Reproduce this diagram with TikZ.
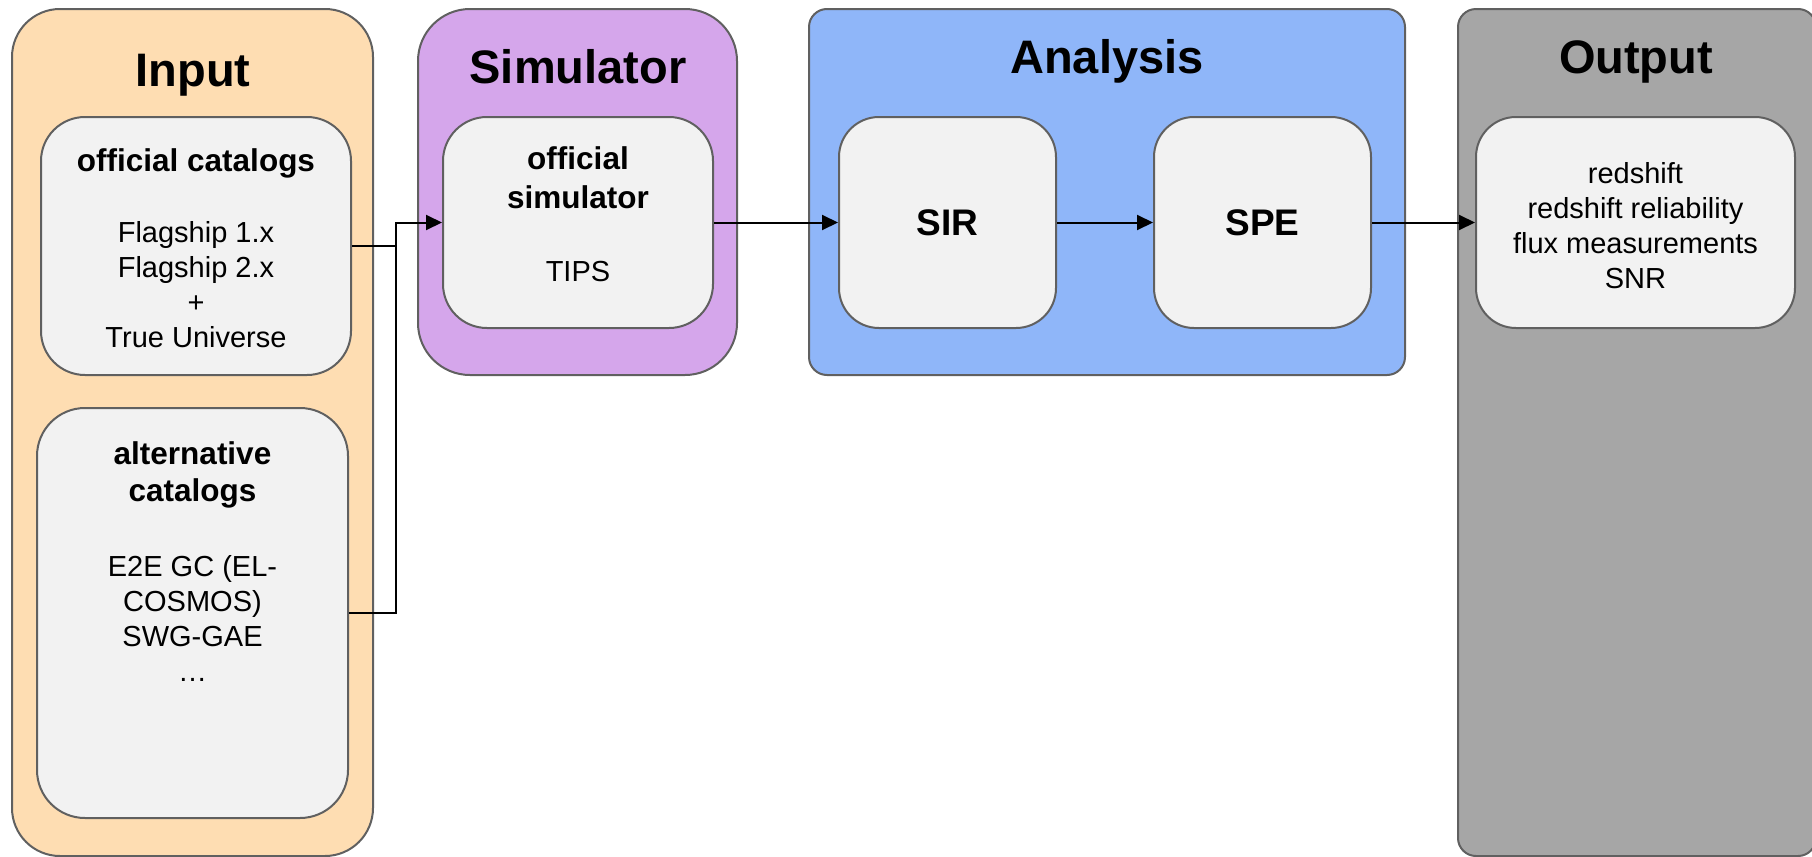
\documentclass[tikz,border=0pt]{standalone}
\usepackage{fontspec}
\setmainfont{Liberation Sans}
\usetikzlibrary{arrows.meta,positioning}

\definecolor{inputbg}{HTML}{FEDDB2}
\definecolor{simbg}{HTML}{D5A6EB}
\definecolor{anabg}{HTML}{8FB6F9}
\definecolor{outbg}{HTML}{A6A6A6}
\definecolor{boxbg}{HTML}{F2F2F2}
\definecolor{edgegray}{HTML}{606060}

\newcommand{\boxhead}[1]{{\fontsize{15.75}{17.5}\selectfont\bfseries #1}}

\begin{document}
\begin{tikzpicture}[x=0.5pt, y=-0.5pt,
    stage/.style={draw=edgegray, line width=1pt, rounded corners=#1},
    block/.style={draw=edgegray, line width=1pt, fill=boxbg, rounded corners=20pt, inner sep=0pt},
    txt/.style={inner sep=0pt, align=center, font=\fontsize{14.5}{17.5}\selectfont},
    title/.style={inner sep=0pt, anchor=base, font=\fontsize{23.5}{26}\selectfont\bfseries},
    step name/.style={font=\fontsize{18.5}{20}\selectfont\bfseries},
    flow/.style={line width=1pt, -{Triangle[length=8pt,width=7.5pt]}}]
    \path[use as bounding box, fill=white] (0,0) rectangle (1812,857);

    % stages
    \draw[stage=24pt, fill=inputbg] (12,9) rectangle (373,856);
    \draw[stage=26pt, fill=simbg] (418,9) rectangle (737,375);
    \draw[stage=9pt, fill=anabg] (809,9) rectangle (1405,375);
    \draw[stage=9pt, fill=outbg] (1458,9) rectangle (1816,856);

    \node[title] (tin) at (193,86) {Input};
    \node[title] (tsim) at (578,83) {Simulator};
    \node[title] (tana) at (1107,73) {Analysis};
    \node[title] (tout) at (1636,73) {Output};

    % boxes
    \node[block, rounded corners=22pt, minimum width=155pt, minimum height=129pt] (offcat) at (196,246) {};
    \node[txt, anchor=north] (offtxt) at ([yshift=-16.15pt]offcat.north)
        {\boxhead{official catalogs}\\[18pt]Flagship 1.x\\Flagship 2.x\\+\\True Universe};
    \node[block, rounded corners=24pt, minimum width=155.5pt, minimum height=205pt] (altcat) at (192.5,613) {};
    \node[txt, anchor=north] (alttxt) at ([yshift=-17pt]altcat.north)
        {\boxhead{alternative}\\[1.25pt]\boxhead{catalogs}\\[20pt]E2E GC (EL-\\COSMOS)\\SWG-GAE\\…};
    \node[block, rounded corners=22pt, minimum width=135pt, minimum height=105.5pt] (simbox) at (578,222.5) {};
    \node[txt, anchor=north] (simtxt) at ([yshift=-15.25pt]simbox.north)
        {\boxhead{official}\\[2pt]\boxhead{simulator}\\[19pt]TIPS};
    \node[block, step name, minimum width=108.5pt, minimum height=105.5pt] (sir) at (947.5,222.5) {SIR};
    \node[block, step name, minimum width=108.5pt, minimum height=105.5pt] (spe) at (1262.5,222.5) {SPE};
    \node[block, minimum width=159.5pt, minimum height=105.5pt] (result) at (1635.5,222.5) {};
    \node[txt] (restxt) at ([yshift=-1.75pt]result.center)
        {redshift\\redshift reliability\\flux measurements\\SNR};

    % connectors
    \coordinate (jn) at (396,246);
    \draw[line width=1pt] (altcat.east) -| (jn);
    \draw[flow] (offcat.east) -- (jn) |- (simbox.west);
    \draw[flow] (simbox) -- (sir);
    \draw[flow] (sir) -- (spe);
    \draw[flow] (spe) -- (result);
\end{tikzpicture}
\end{document}
